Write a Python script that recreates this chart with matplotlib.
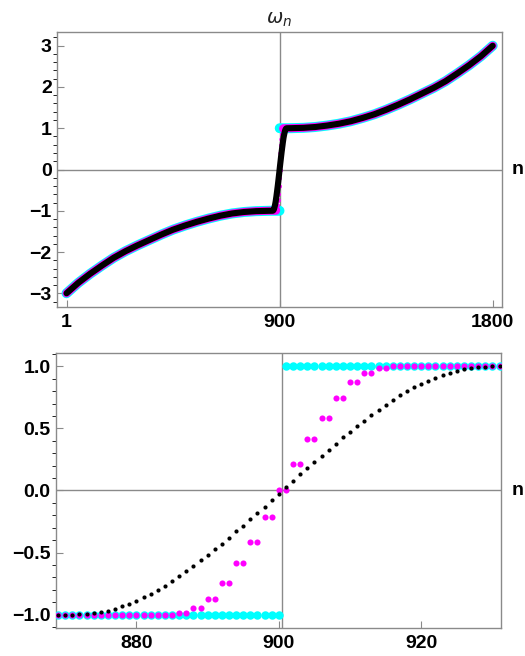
import matplotlib.pyplot as plt
import matplotlib.transforms as mtransforms

plt.rcParams['font.family'] = ['Liberation Sans', 'DejaVu Sans']

# outer parts of the curve
n_left = [1, 50, 100, 150, 200, 250, 300, 350, 400, 450, 500, 550, 600,
          650, 700, 750, 800, 850]
w_left = [-3.0, -2.75, -2.53, -2.33, -2.14, -1.98, -1.84, -1.71, -1.58,
          -1.46, -1.36, -1.27, -1.19, -1.12, -1.065, -1.03, -1.01, -1.002]
n_right = [951, 1001, 1051, 1101, 1151, 1201, 1251, 1301, 1351, 1401,
           1451, 1501, 1551, 1601, 1651, 1701, 1751, 1800]
w_right = [1.002, 1.01, 1.03, 1.065, 1.11, 1.17, 1.25, 1.34, 1.45, 1.57,
           1.70, 1.84, 1.98, 2.14, 2.33, 2.53, 2.75, 3.0]

# region around n = 900
n_mid = list(range(869, 932))
cyan_mid = [-1.0, -1.0, -1.0, -1.0, -1.0, -1.0, -1.0, -1.0, -1.0, -1.0,
            -1.0, -1.0, -1.0, -1.0, -1.0, -1.0, -1.0, -1.0, -1.0, -1.0,
            -1.0, -1.0, -1.0, -1.0, -1.0, -1.0, -1.0, -1.0, -1.0, -1.0,
            -1.0, -1.0,
            1.0, 1.0, 1.0, 1.0, 1.0, 1.0, 1.0, 1.0, 1.0, 1.0,
            1.0, 1.0, 1.0, 1.0, 1.0, 1.0, 1.0, 1.0, 1.0, 1.0,
            1.0, 1.0, 1.0, 1.0, 1.0, 1.0, 1.0, 1.0, 1.0, 1.0, 1.0]
magenta_mid = [-1.0, -1.0, -1.0, -1.0, -1.0, -1.0, -1.0, -1.0, -1.0, -1.0,
               -1.0, -1.0, -1.0, -1.0, -1.0, -1.0, -1.0,
               -0.99, -0.99, -0.95, -0.95, -0.87, -0.87, -0.745, -0.745,
               -0.587, -0.587, -0.412, -0.412, -0.212, -0.212, 0.0, 0.0,
               0.212, 0.212, 0.412, 0.412, 0.587, 0.587, 0.745, 0.745,
               0.87, 0.87, 0.95, 0.95, 0.99, 0.99,
               1.0, 1.0, 1.0, 1.0, 1.0, 1.0, 1.0, 1.0, 1.0, 1.0,
               1.0, 1.0, 1.0, 1.0, 1.0, 1.0]
black_mid = [-1.0, -1.0, -1.0, -0.998, -0.995, -0.99, -0.98, -0.968, -0.953,
             -0.934, -0.912, -0.888, -0.861, -0.834, -0.803, -0.77, -0.73,
             -0.69, -0.652, -0.606, -0.562, -0.518, -0.472, -0.427, -0.38,
             -0.33, -0.282, -0.231, -0.18, -0.13, -0.08, -0.027,
             0.027, 0.08, 0.13, 0.18, 0.228, 0.279, 0.33, 0.378, 0.427,
             0.47, 0.518, 0.56, 0.605, 0.652, 0.69, 0.73, 0.768, 0.80, 0.83,
             0.857, 0.885, 0.908, 0.932, 0.95, 0.965, 0.977, 0.988, 0.993,
             0.997, 1.0, 1.0]

CYAN = '#00ffff'
MAGENTA = '#ff00ff'
GRAY = '#8a8a8a'
mid = 900.5

fig = plt.figure(figsize=(5.25, 6.56), dpi=100)
ax1 = fig.add_axes([57.3 / 525, 1 - 307.3 / 656, 444.4 / 525, 275.6 / 656])
ax2 = fig.add_axes([56 / 525, 1 - 628.3 / 656, 445 / 525, 275.6 / 656])

###############################################################################
# top panel: whole range

n_all = n_left + n_mid + n_right
cy_all = w_left + cyan_mid + w_right
mg_all = w_left + magenta_mid + w_right
bk_all = w_left + black_mid + w_right

cy_l = [(n, v) for n, v in zip(n_all, cy_all) if n < mid]
cy_r = [(n, v) for n, v in zip(n_all, cy_all) if n > mid]
for seg in (cy_l, cy_r):
    ax1.plot([p[0] for p in seg], [p[1] for p in seg], color=CYAN, lw=7.2,
             solid_capstyle='round', zorder=3)

mg_l = [(n, v) for n, v in zip(n_all, mg_all) if n <= 886]
mg_r = [(n, v) for n, v in zip(n_all, mg_all) if n >= 915]
for seg in (mg_l, mg_r):
    ax1.plot([p[0] for p in seg], [p[1] for p in seg], color=MAGENTA, lw=5.8,
             solid_capstyle='round', zorder=4)
ax1.plot(n_mid, magenta_mid, 'o', color=MAGENTA, ms=3.2, mew=0, zorder=4)

ax1.plot(n_all, bk_all, color='black', lw=4.4, solid_capstyle='round',
         zorder=5)

ax1.set_xlim(-38, 1838)
ax1.set_ylim(-3.34, 3.34)
ax1.set_xticks([1, 900, 1800])
ax1.set_yticks([-3, -2, -1, 0, 1, 2, 3])
ax1.set_yticks([y / 5 for y in range(-16, 17)], minor=True)
ax1.set_title(r'$\omega_n$', fontsize=14, pad=6, color='#222222')

###############################################################################
# bottom panel: zoom around the jump

ax2.plot(n_mid, cyan_mid, 'o', color=CYAN, ms=6.1, mew=0, zorder=3)
ax2.plot(n_mid, magenta_mid, 'o', color=MAGENTA, ms=4.4, mew=0, zorder=4)
ax2.plot(n_mid, black_mid, 'o', color='black', ms=3.0, mew=0, zorder=5)

ax2.set_xlim(868.7, 931.2)
ax2.set_ylim(-1.11, 1.11)
ax2.set_xticks([880, 900, 920])
ax2.set_yticks([-1.0, -0.5, 0.0, 0.5, 1.0])
ax2.set_yticklabels(['\u22121.0', '\u22120.5', '0.0', '0.5', '1.0'])
ax2.set_yticks([y / 10 for y in range(-11, 12)], minor=True)

for ax in (ax1, ax2):
    ax.axhline(0, color=GRAY, lw=1.0, zorder=1)
    ax.axvline(mid, color=GRAY, lw=1.0, zorder=1)
    for s in ax.spines.values():
        s.set_color(GRAY)
        s.set_linewidth(1.0)
    ax.tick_params(direction='in', color=GRAY, labelsize=14,
                   top=False, right=False)
    ax.tick_params(axis='x', which='major', length=5, pad=5)
    ax.tick_params(axis='y', which='major', length=5, pad=4)
    ax.tick_params(axis='y', which='minor', length=2.8)
    ax.tick_params(axis='x', which='minor', bottom=False)
    for lab in ax.get_xticklabels() + ax.get_yticklabels():
        lab.set_fontweight('bold')
    trans = mtransforms.blended_transform_factory(ax.transAxes, ax.transData)
    ax.text(1.023, 0, 'n', transform=trans, fontsize=14, fontweight='bold',
            ha='left', va='center')

fig.savefig('out.png', dpi=100)
